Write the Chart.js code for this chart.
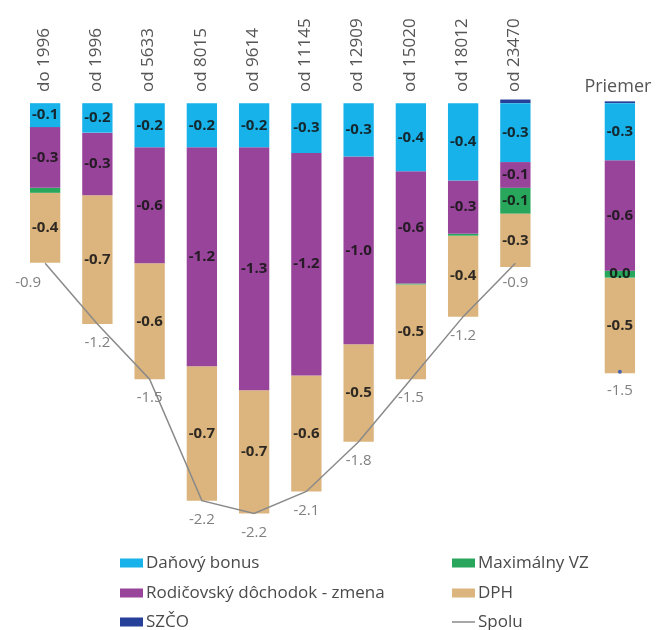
<!DOCTYPE html>
<html>
<head>
<meta charset="utf-8">
<script src="https://cdn.jsdelivr.net/npm/chart.js@4"></script>
<style>
  html, body { margin: 0; background: #fff; }
  #wrap { width: 666px; height: 630px; }
</style>
</head>
<body>
<div id="wrap"><canvas id="chart" width="666" height="630"></canvas></div>
<script>
// categories (empty slot separates the average column)
const categories = ['do 1996', 'od 1996', 'od 5633', 'od 8015', 'od 9614', 'od 11145', 'od 12909', 'od 15020', 'od 18012', 'od 23470', '', 'Priemer'];

// series values
const danovyBonus = [-0.13, -0.16, -0.24, -0.24, -0.24, -0.27, -0.29, -0.37, -0.42, -0.32, null, -0.31];
const rodicovsky  = [-0.33, -0.34, -0.63, -1.19, -1.32, -1.21, -1.02, -0.61, -0.29, -0.14, null, -0.60];
const szco        = [0, 0, 0, 0, 0, 0, 0, 0, 0, 0.02, null, 0.01];
const maxVZ       = [-0.027, 0, 0, 0, 0, 0, 0, -0.005, -0.01, -0.14, null, -0.038];
const dph         = [-0.38, -0.70, -0.63, -0.73, -0.67, -0.63, -0.53, -0.515, -0.44, -0.29, null, -0.52];
const spolu       = [-0.87, -1.20, -1.50, -2.16, -2.23, -2.11, -1.84, -1.50, -1.16, -0.87, null, -1.46];

const FONT = "'Open Sans', sans-serif";

function fmt(v) {
  const r = Math.round(v * 10) / 10;
  return (r === 0 ? 0 : r).toFixed(1);
}

// value labels, category labels and legend
const labelsPlugin = {
  id: 'labels',
  afterDatasetsDraw(chart) {
    const ctx = chart.ctx;
    const xScale = chart.scales.x;
    ctx.save();

    // segment labels
    ctx.font = '700 15px ' + FONT;
    ctx.fillStyle = 'rgba(20,20,20,0.88)';
    ctx.textAlign = 'center';
    ctx.textBaseline = 'middle';
    chart.data.datasets.forEach((ds, i) => {
      if (ds.type === 'line' || ds.noLabels) return;
      const meta = chart.getDatasetMeta(i);
      meta.data.forEach((el, j) => {
        const v = ds.data[j];
        if (v == null || Math.abs(v) < 0.035) return;
        ctx.fillText(fmt(v), el.x, (el.y + el.base) / 2);
      });
    });

    // totals under the bars
    const lineIdx = chart.data.datasets.findIndex(d => d.type === 'line');
    const lineMeta = chart.getDatasetMeta(lineIdx);
    ctx.font = '15px ' + FONT;
    ctx.fillStyle = '#808080';
    lineMeta.data.forEach((el, j) => {
      const v = spolu[j];
      if (v == null) return;
      const dx = j === 0 ? -17 : 0;
      ctx.fillText(fmt(v), el.x + dx, el.y + 19);
    });

    // category labels on top
    ctx.fillStyle = '#555';
    ctx.font = '17px ' + FONT;
    categories.forEach((c, j) => {
      if (!c) return;
      const x = xScale.getPixelForValue(j);
      if (c === 'Priemer') {
        ctx.textAlign = 'center';
        ctx.textBaseline = 'middle';
        ctx.font = '18px ' + FONT;
        ctx.fillText(c, x - 2, 87);
      } else {
        ctx.save();
        ctx.translate(x - 1, 92);
        ctx.rotate(-Math.PI / 2);
        ctx.textAlign = 'left';
        ctx.textBaseline = 'middle';
        ctx.fillText(c, 0, 0);
        ctx.restore();
      }
    });

    // legend, two columns
    ctx.font = '17px ' + FONT;
    ctx.textAlign = 'left';
    ctx.textBaseline = 'middle';
    const cols = [120, 452];
    const rows = [563, 593, 622];
    chart.data.datasets.forEach((ds, i) => {
      const x = cols[Math.floor(i / 3)];
      const y = rows[i % 3];
      if (ds.type === 'line') {
        ctx.strokeStyle = ds.borderColor;
        ctx.lineWidth = 1.5;
        ctx.beginPath();
        ctx.moveTo(x, y);
        ctx.lineTo(x + 23, y);
        ctx.stroke();
      } else {
        ctx.fillStyle = ds.backgroundColor;
        ctx.fillRect(x, y - 4.5, 23, 9);
      }
      ctx.fillStyle = '#4a4a4a';
      ctx.fillText(ds.label, x + 26, y);
    });

    ctx.restore();
  }
};

const barCommon = { type: 'bar', stack: 'bars', order: 1, barPercentage: 0.58, categoryPercentage: 1 };

new Chart(document.getElementById('chart'), {
  data: {
    labels: categories,
    datasets: [
      Object.assign({ label: 'Daňový bonus', data: danovyBonus, backgroundColor: '#17b2ea' }, barCommon),
      Object.assign({ label: 'Rodičovský dôchodok - zmena', data: rodicovsky, backgroundColor: '#98449a' }, barCommon),
      Object.assign({ label: 'SZČO', data: szco, backgroundColor: '#26409a', noLabels: true }, barCommon),
      Object.assign({ label: 'Maximálny VZ', data: maxVZ, backgroundColor: '#28a65b' }, barCommon),
      Object.assign({ label: 'DPH', data: dph, backgroundColor: '#dcb47e' }, barCommon),
      {
        type: 'line',
        label: 'Spolu',
        data: spolu,
        stack: 'total',
        order: 0,
        borderColor: '#8a8a8a',
        borderWidth: 1.5,
        tension: 0,
        spanGaps: false,
        pointRadius: spolu.map((v, j) => j === spolu.length - 1 ? 2 : 0),
        pointBackgroundColor: '#4a64b0',
        pointBorderWidth: 0
      }
    ]
  },
  options: {
    responsive: false,
    animation: false,
    devicePixelRatio: 1,
    layout: { padding: { top: 94, bottom: 76, left: 19, right: 20 } },
    plugins: { legend: { display: false }, tooltip: { enabled: false } },
    scales: {
      x: { display: false, stacked: true },
      y: { display: false, stacked: true, min: -2.45, max: 0.05 }
    }
  },
  plugins: [labelsPlugin]
});
</script>
</body>
</html>
